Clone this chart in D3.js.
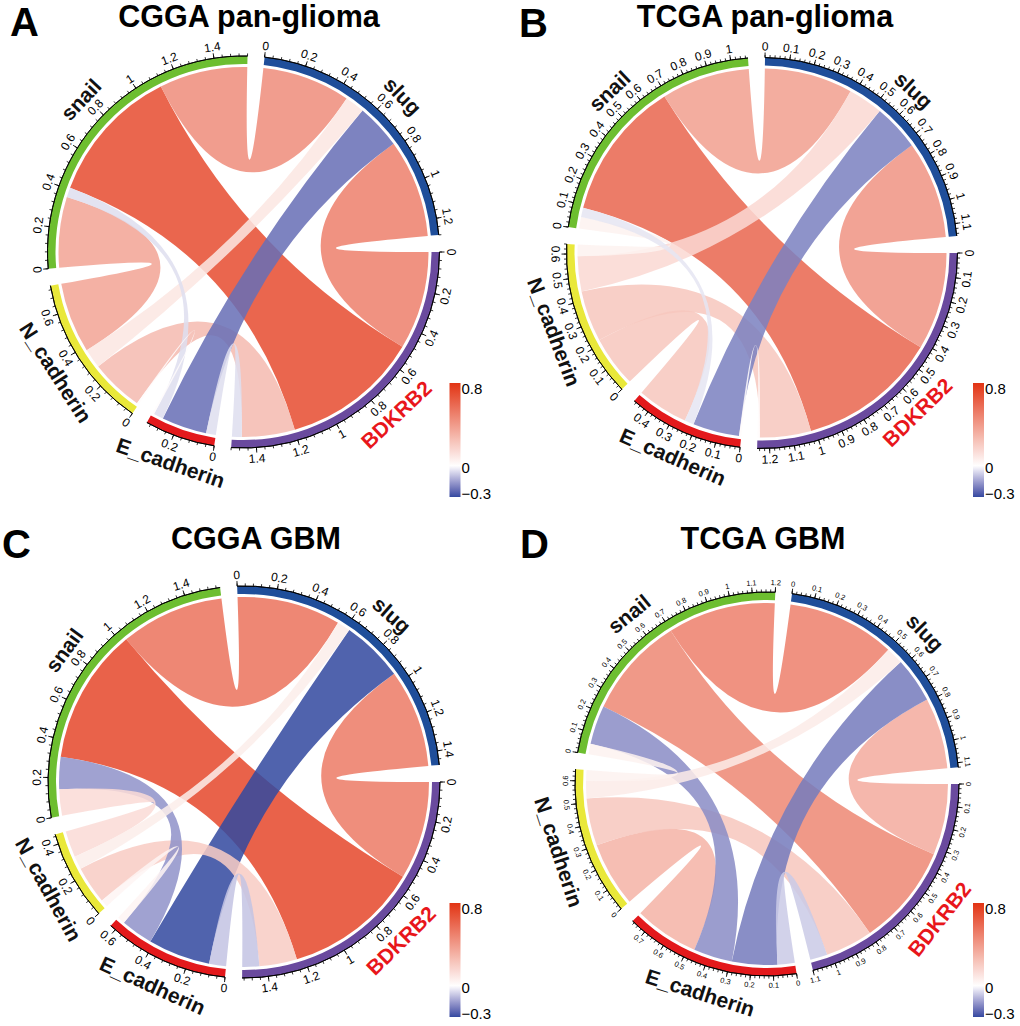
<!DOCTYPE html>
<html>
<head>
<meta charset="utf-8">
<script src="https://cdn.jsdelivr.net/npm/d3@7"></script>
<style>
  body { margin: 0; background: #fff; }
  text { font-family: "Liberation Sans", Arial, sans-serif; }
</style>
</head>
<body>
<svg id="chart" width="1020" height="1026"></svg>
<script>
// genes, clockwise from 3 o'clock
const genes = ["BDKRB2", "E_cadherin", "N_cadherin", "snail", "slug"];
const geneColors = ["#6A4A9E", "#E3191C", "#E9E83A", "#6DBE30", "#1F4E9A"];

// gene pairs and correlation per cohort
const pairs = [
  ["snail", "slug"], ["snail", "BDKRB2"], ["snail", "N_cadherin"], ["snail", "E_cadherin"],
  ["slug", "BDKRB2"], ["slug", "E_cadherin"], ["slug", "N_cadherin"],
  ["BDKRB2", "N_cadherin"], ["BDKRB2", "E_cadherin"], ["N_cadherin", "E_cadherin"]
];
const corCGGApan = [0.45, 0.70, 0.36, -0.05, 0.50, -0.23, 0.10, 0.27, -0.05, 0.01];
const corTCGApan = [0.38, 0.60, 0.05, -0.04, 0.42, -0.20, 0.15, 0.22, 0.01, 0.22];
const corCGGAgbm = [0.55, 0.72, 0.14, -0.17, 0.52, -0.33, 0.07, 0.20, -0.09, 0.04];
const corTCGAgbm = [0.50, 0.47, 0.05, -0.18, 0.33, -0.21, 0.08, 0.22, -0.08, 0.30];

const titles = ["CGGA pan-glioma", "TCGA pan-glioma", "CGGA GBM", "TCGA GBM"];
const letters = ["A", "B", "C", "D"];
const tickSteps = [0.2, 0.1, 0.2, 0.1];
const legendTicks = [0.8, 0, -0.3];

// panel placement
const panels = [
  {cor: corCGGApan, cx: 243.5, cy: 252, R: 196, tx: 249, ty: 27, lx: 10, ly: 36, gx: 449.5, gy: 383, tf: 12},
  {cor: corTCGApan, cx: 762, cy: 253, R: 195.5, tx: 765, ty: 27, lx: 519, ly: 37, gx: 973, gy: 383, tf: 12},
  {cor: corCGGAgbm, cx: 244, cy: 782, R: 196, tx: 256, ty: 549, lx: 2, ly: 558, gx: 449.5, gy: 903, tf: 12},
  {cor: corTCGAgbm, cx: 767, cy: 784, R: 192, tx: 763, ty: 549, lx: 520, ly: 558, gx: 973, gy: 903, tf: 7.5}
];

// negative side in Lab (purplish), positive side in RGB (orange-red)
const colorNeg = d3.scaleLinear().domain([-0.3, 0]).range(["#3349A0", "#FFFFFF"])
  .interpolate(d3.interpolateLab).clamp(true);
const colorPos = d3.scaleLinear().domain([0, 0.8]).range(["#FFFFFF", "#E23414"])
  .interpolate(d3.interpolateRgb).clamp(true);
const color = v => v < 0 ? colorNeg(v) : colorPos(v);

const svg = d3.select("#chart");
const defs = svg.append("defs");
const grad = defs.append("linearGradient")
  .attr("id", "legendGrad")
  .attr("x1", 0).attr("y1", 0).attr("x2", 0).attr("y2", 1);
d3.range(0, 1.0001, 0.025).forEach(t => {
  const v = 0.8 - t * 1.1;
  grad.append("stop").attr("offset", t).attr("stop-color", color(v));
});

const gapDeg = 5;

function layout(cor) {
  const n = genes.length;
  const mat = genes.map(() => genes.map(() => 0));
  pairs.forEach(([a, b], k) => {
    const i = genes.indexOf(a), j = genes.indexOf(b);
    mat[i][j] = cor[k];
    mat[j][i] = cor[k];
  });
  const sizes = mat.map(row => d3.sum(row, Math.abs));
  const gap = gapDeg * Math.PI / 180;
  const k = (2 * Math.PI - n * gap) / d3.sum(sizes);
  // d3 angles: 0 at 12 o'clock; first sector starts at 3 o'clock
  let a = Math.PI / 2;
  const sectors = genes.map((g, i) => {
    const s = {name: g, index: i, size: sizes[i], start: a, end: a + sizes[i] * k};
    s.scale = d3.scaleLinear().domain([0, s.size]).range([s.start, s.end]);
    a = s.end + gap;
    return s;
  });
  // within a sector, links go to the preceding sectors in turn
  const slot = {};
  sectors.forEach((s, i) => {
    let u = 0;
    for (let m = 1; m < n; m++) {
      const j = (i - m + n) % n;
      const w = Math.abs(mat[i][j]);
      slot[i + "-" + j] = [u, u + w];
      u += w;
    }
  });
  const links = pairs.map(([a, b], kk) => {
    const i = genes.indexOf(a), j = genes.indexOf(b);
    const si = slot[i + "-" + j], sj = slot[j + "-" + i];
    return {
      value: cor[kk],
      source: {startAngle: sectors[i].scale(si[0]), endAngle: sectors[i].scale(si[1])},
      target: {startAngle: sectors[j].scale(sj[0]), endAngle: sectors[j].scale(sj[1])}
    };
  });
  return {sectors, links};
}

function facing(angle) {
  // angle in d3 radians -> rotation in degrees, flipped in lower half
  let deg = angle * 180 / Math.PI;
  deg = ((deg % 360) + 360) % 360;
  return (deg > 90 && deg < 270) ? deg - 180 : deg;
}

panels.forEach((p, pi) => {
  const {sectors, links} = layout(p.cor);
  const g = svg.append("g");

  g.append("text")
    .attr("x", p.lx).attr("y", p.ly)
    .attr("font-size", 40).attr("font-weight", "bold")
    .text(letters[pi]);

  g.append("text")
    .attr("x", p.tx).attr("y", p.ty)
    .attr("text-anchor", "middle")
    .attr("font-size", 30.5).attr("font-weight", "bold")
    .text(titles[pi]);

  const c = g.append("g").attr("transform", `translate(${p.cx},${p.cy})`);
  const R = p.R;

  // links
  const ribbon = d3.ribbon().radius(R - 11);
  c.append("g")
    .selectAll("path")
    .data(links.slice().sort((a, b) => Math.abs(b.value) - Math.abs(a.value)))
    .join("path")
      .attr("d", ribbon)
      .attr("fill", d => color(d.value))
      .attr("fill-opacity", 0.86);

  // sector bands
  const arc = d3.arc().innerRadius(R - 8).outerRadius(R);
  c.append("g")
    .selectAll("path")
    .data(sectors)
    .join("path")
      .attr("d", d => arc({startAngle: d.start, endAngle: d.end}))
      .attr("fill", d => geneColors[d.index]);

  // axis line
  const axisArc = d3.arc().innerRadius(R).outerRadius(R);
  c.append("g")
    .selectAll("path")
    .data(sectors)
    .join("path")
      .attr("d", d => axisArc({startAngle: d.start, endAngle: d.end}))
      .attr("fill", "none")
      .attr("stroke", "#000")
      .attr("stroke-width", 0.9);

  const step = tickSteps[pi];
  sectors.forEach(s => {
    const minor = d3.range(0, s.size + 1e-9, step / 5);
    const major = d3.range(0, s.size + 1e-9, step);
    const ax = c.append("g");
    ax.selectAll("line.minor")
      .data(minor)
      .join("line")
        .attr("class", "minor")
        .each(function(v) {
          const a = s.scale(v);
          const p0 = d3.pointRadial(a, R), p1 = d3.pointRadial(a, R + 2.6);
          d3.select(this).attr("x1", p0[0]).attr("y1", p0[1]).attr("x2", p1[0]).attr("y2", p1[1]);
        })
        .attr("stroke", "#000").attr("stroke-width", 0.8);
    ax.selectAll("line.major")
      .data(major)
      .join("line")
        .attr("class", "major")
        .each(function(v) {
          const a = s.scale(v);
          const p0 = d3.pointRadial(a, R), p1 = d3.pointRadial(a, R + 5);
          d3.select(this).attr("x1", p0[0]).attr("y1", p0[1]).attr("x2", p1[0]).attr("y2", p1[1]);
        })
        .attr("stroke", "#000").attr("stroke-width", 0.9);
    ax.selectAll("text")
      .data(major)
      .join("text")
        .attr("transform", v => {
          const a = s.scale(v);
          const pt = d3.pointRadial(a, R + (p.tf > 9 ? 11 : 9.5));
          return `translate(${pt[0]},${pt[1]}) rotate(${facing(a)})`;
        })
        .attr("text-anchor", "middle")
        .attr("dominant-baseline", "central")
        .attr("font-size", p.tf)
        .text(v => d3.format("~g")(+v.toFixed(2)));

    const mid = (s.start + s.end) / 2;
    const pt = d3.pointRadial(mid, R + 27);
    c.append("text")
      .attr("transform", `translate(${pt[0]},${pt[1]}) rotate(${facing(mid)})`)
      .attr("text-anchor", "middle")
      .attr("dominant-baseline", "central")
      .attr("font-size", 21)
      .attr("font-weight", "bold")
      .attr("fill", s.name === "BDKRB2" ? "#E8161B" : "#111")
      .text(s.name);
  });

  // colour legend
  const lg = g.append("g").attr("transform", `translate(${p.gx},${p.gy})`);
  const barH = 114;
  const ly = d3.scaleLinear().domain([-0.3, 0.8]).range([barH, 0]);
  lg.append("rect")
    .attr("width", 11).attr("height", barH)
    .attr("fill", "url(#legendGrad)");
  lg.selectAll("text")
    .data(legendTicks)
    .join("text")
      .attr("x", 12)
      .attr("y", d => d === 0.8 ? ly(d) + 5 : d === -0.3 ? ly(d) - 4 : ly(d) + 2)
      .attr("dominant-baseline", "central")
      .attr("font-size", 15)
      .text(d => d < 0 ? "\u2212" + Math.abs(d) : d);
});
</script>
</body>
</html>
